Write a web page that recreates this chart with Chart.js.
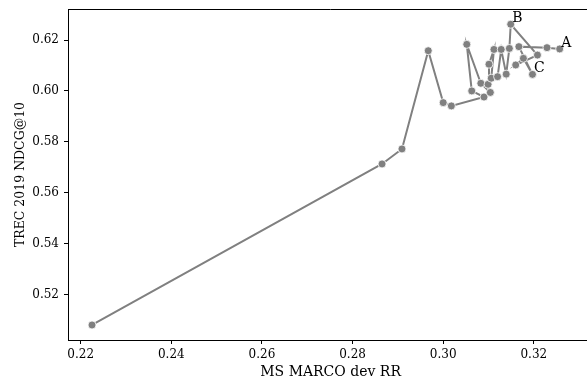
<!DOCTYPE html>
<html lang="en">
<head>
  <meta charset="UTF-8" />
  <title>TREC 2019 vs MS MARCO dev</title>
  <style>
    html, body { margin: 0; padding: 0; background: #fff; overflow: hidden; }
    #wrap { width: 587px; height: 384px; overflow: hidden; }
  </style>
</head>
<body>
  <!-- the figure is wider than the window; the right spine falls outside, as in the source -->
  <div id="wrap"><canvas id="grafico" width="598" height="384"></canvas></div>

<script src="https://cdn.jsdelivr.net/npm/chart.js@4.4.0/dist/chart.umd.min.js"></script>
<script>
  // values, in path order
  const devRR = [0.2225, 0.2865, 0.2909, 0.2967, 0.3000, 0.3018, 0.3090, 0.3063, 0.3052,
                 0.3083, 0.3104, 0.3099, 0.3101, 0.3112, 0.3106, 0.3120, 0.3128, 0.3139,
                 0.3146, 0.3149, 0.3208, 0.3160, 0.3177, 0.3197, 0.3167, 0.3229, 0.3257];
  const ndcg  = [0.5080, 0.5713, 0.5772, 0.6158, 0.5954, 0.5941, 0.5976, 0.6000, 0.6183,
                 0.6030, 0.5994, 0.6026, 0.6105, 0.6163, 0.6050, 0.6056, 0.6163, 0.6066,
                 0.6167, 0.6262, 0.6141, 0.6102, 0.6128, 0.6065, 0.6174, 0.6170, 0.6165];
  const markLabels = { 26: 'A', 19: 'B', 23: 'C' };
  const xTicks = [0.22, 0.24, 0.26, 0.28, 0.30, 0.32];
  const yTicks = [0.52, 0.54, 0.56, 0.58, 0.60, 0.62];

  const fuente = "'DejaVu Serif', 'Liberation Serif', serif";
  const puntos = devRR.map((x, i) => ({ x: x, y: ndcg[i] }));

  // frame on top and letters next to marked points
  const extras = {
    id: 'extras',
    afterDraw(chart) {
      const ctx = chart.ctx;
      const a = chart.chartArea;
      ctx.save();
      ctx.strokeStyle = '#000';
      ctx.lineWidth = 1;
      ctx.beginPath();
      ctx.moveTo(a.left, a.top + 0.5);
      ctx.lineTo(a.right, a.top + 0.5);
      ctx.lineTo(a.right - 0.5, a.bottom);
      ctx.stroke();

      const sx = chart.scales.x, sy = chart.scales.y;
      ctx.fillStyle = '#000';
      ctx.font = '14px ' + fuente;
      ctx.textBaseline = 'middle';
      ctx.textAlign = 'left';
      Object.keys(markLabels).forEach(k => {
        const px = sx.getPixelForValue(devRR[k]);
        const py = sy.getPixelForValue(ndcg[k]);
        ctx.fillText(markLabels[k], px + 1.5, py - 6);
      });
      ctx.restore();
    }
  };

  new Chart(document.getElementById('grafico'), {
    type: 'scatter',
    data: {
      datasets: [{
        data: puntos,
        showLine: true,
        borderColor: '#808080',
        borderWidth: 2,
        backgroundColor: '#808080',
        pointBackgroundColor: '#808080',
        pointBorderColor: '#ffffff',
        pointBorderWidth: 0.8,
        pointRadius: 4
      }]
    },
    options: {
      responsive: false,
      animation: false,
      layout: { padding: { top: 9, right: 0, left: 0, bottom: 0 } },
      plugins: { legend: { display: false }, tooltip: { enabled: false } },
      scales: {
        x: {
          type: 'linear',
          min: 0.2172,
          max: 0.3331,
          afterBuildTicks: s => { s.ticks = xTicks.map(v => ({ value: v })); },
          afterFit: s => { s.height = 44; s.paddingLeft = 0; s.paddingRight = 0; },
          grid: { drawOnChartArea: false, tickLength: 4, color: '#000' },
          border: { color: '#000', width: 1 },
          ticks: { color: '#000', font: { family: fuente, size: 12 }, padding: 4, maxRotation: 0,
                   callback: v => v.toFixed(2) },
          title: { display: true, text: 'MS MARCO dev RR', color: '#000',
                   font: { family: fuente, size: 14 }, padding: { top: 0, bottom: 3 } }
        },
        y: {
          type: 'linear',
          min: 0.5021,
          max: 0.6322,
          afterBuildTicks: s => { s.ticks = yTicks.map(v => ({ value: v })); },
          afterFit: s => { s.width = 68; s.paddingTop = 0; s.paddingBottom = 0; },
          grid: { drawOnChartArea: false, tickLength: 4, color: '#000' },
          border: { color: '#000', width: 1 },
          ticks: { color: '#000', font: { family: fuente, size: 12 }, padding: 5,
                   callback: v => v.toFixed(2) },
          title: { display: true, text: 'TREC 2019 NDCG@10', color: '#000',
                   font: { family: fuente, size: 12.5 }, padding: { top: 13, bottom: 0 } }
        }
      }
    },
    plugins: [extras]
  });
</script>
</body>
</html>
